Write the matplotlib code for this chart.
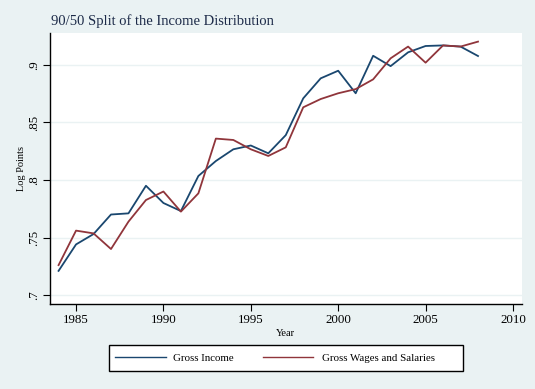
import matplotlib
matplotlib.use("Agg")
import matplotlib.pyplot as plt
from matplotlib.lines import Line2D
from matplotlib.patches import Rectangle

# data
years = list(range(1984, 2009))
gross_income = [0.721, 0.744, 0.753, 0.770, 0.771, 0.795, 0.780, 0.773, 0.8035,
                0.8165, 0.8267, 0.830, 0.8232, 0.839, 0.871, 0.8884, 0.895,
                0.8754, 0.908, 0.899, 0.911, 0.9165, 0.917, 0.916, 0.9078]
gross_wages = [0.726, 0.756, 0.7536, 0.740, 0.7638, 0.7826, 0.790, 0.7725,
               0.7884, 0.836, 0.8348, 0.8267, 0.8209, 0.8284, 0.8632, 0.8704,
               0.8754, 0.879, 0.8875, 0.9058, 0.916, 0.902, 0.917, 0.916, 0.9203]
series_names = ["Gross Income", "Gross Wages and Salaries"]
xticks = [1985, 1990, 1995, 2000, 2005, 2010]
yticks = [0.7, 0.75, 0.8, 0.85, 0.9]
ytick_labels = [".7", ".75", ".8", ".85", ".9"]

navy = "#1a476f"
maroon = "#90353b"
bg = "#eaf2f3"

plt.rcParams["font.family"] = ["Liberation Serif", "DejaVu Serif"]

W, H = 535, 389
fig = plt.figure(figsize=(W / 100, H / 100), dpi=100, facecolor=bg)
ax = fig.add_axes([50 / W, 1 - 304 / H, (521.7 - 50) / W, (304 - 33) / H])
ax.set_facecolor("white")

ax.plot(years, gross_income, color=navy, lw=1.3)
ax.plot(years, gross_wages, color=maroon, lw=1.3)

ax.set_xlim(1983.51, 2010.5)
ax.set_ylim(0.6922, 0.9278)
ax.set_xticks(xticks)
ax.set_yticks(yticks)
ax.set_yticklabels(ytick_labels, rotation=90, va="center")
ax.grid(axis="y", color=bg, lw=1)
ax.set_axisbelow(True)

for s in ["top", "right"]:
    ax.spines[s].set_visible(False)
for s in ["left", "bottom"]:
    ax.spines[s].set_linewidth(1)
    ax.spines[s].set_color("black")
ax.tick_params(direction="out", length=5, width=0.8, labelsize=9.3, pad=2)

ax.set_xlabel("Year", fontsize=7.5, labelpad=2)
ax.set_ylabel("Log Points", fontsize=7.5, labelpad=2)

fig.text(51 / W, 1 - 21 / H, "90/50 Split of the Income Distribution",
         fontsize=10.5, color="#1c2a48", va="center", ha="left")

# legend box drawn by hand (Stata-style layout with equal columns)
fig.patches.append(Rectangle((109.3 / W, 1 - 370.5 / H), (462.7 - 109.3) / W, (370.5 - 345.3) / H,
                             transform=fig.transFigure, facecolor="white",
                             edgecolor="black", lw=1))
ly = 1 - 357 / H
for (x0, x1, xt), name, col in zip([(115, 166, 173.3), (262.7, 313.3, 321.7)],
                                   series_names, [navy, maroon]):
    fig.lines.append(Line2D([x0 / W, x1 / W], [ly, ly], transform=fig.transFigure,
                            color=col, lw=1))
    fig.text(xt / W, 1 - 358.5 / H, name, fontsize=7.8, va="center", ha="left")

fig.savefig("out.png", dpi=100, facecolor=bg)
